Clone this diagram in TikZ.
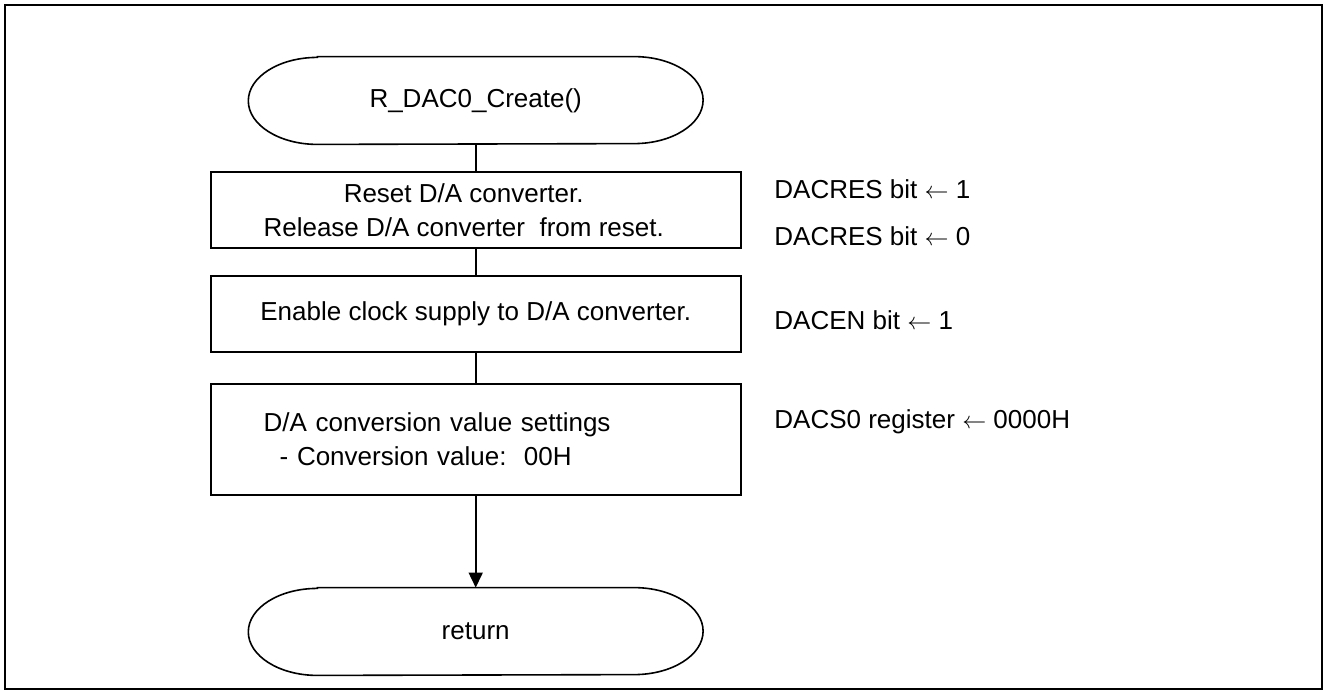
\documentclass[tikz,border=0pt]{standalone}
\usepackage{fontspec}
\setmainfont{Liberation Sans}
\usetikzlibrary{arrows.meta}
\tikzstyle{flow text} = [font=\fontsize{13}{17}\selectfont]
\tikzstyle{flow line} = [line width=0.8pt]
\tikzstyle{flow box} = [draw, flow line, minimum width=265pt, minimum height=38pt, inner sep=0pt, align=center, flow text]
\tikzstyle{note} = [anchor=base west, inner sep=0pt, flow text]
\newcommand{\terminal}[3]{
 \node[flow text, minimum width=227pt, minimum height=43.5pt, inner sep=0pt] (#1) at (#2) {#3};
 \draw[flow line] ([xshift=34.5pt]#1.north west) -- ([xshift=-34.5pt]#1.north east)
  arc[start angle=90, end angle=-90, x radius=34.5pt, y radius=21.75pt]
  -- ([xshift=34.5pt]#1.south west)
  arc[start angle=270, end angle=90, x radius=34.5pt, y radius=21.75pt] -- cycle;
}

\begin{document}
\begin{tikzpicture}[x=0.5pt,y=0.5pt]
    \useasboundingbox (0,0) rectangle (1325,-691);
    \draw[line width=1.2pt] (5,-5) rectangle (1322,-689);

    \terminal{start}{475.7,-100.5}{R\_DAC0\_Create()}
    \node[flow box] (reset) at (475.7,-210) {};
    \node[flow text, align=center, inner sep=0pt] (resettxt) at ([xshift=-6pt]reset.center)
     {Reset D/A converter.\\Release D/A converter\ \ from reset.};
    \node[flow box] (clock) at (475.7,-314) {Enable clock supply to D/A converter.};
    \node[flow box, minimum height=55.5pt, text width=212pt, inner xsep=26.5pt, align=left] (conv) at (475.7,-439.5)
     {D/A conversion value settings\\\hspace*{8pt}- Conversion value:\ \ 00H};
    \terminal{ret}{475.7,-631.5}{return}

    % flow
    \draw[flow line] (start) -- (reset);
    \draw[flow line] (reset) -- (clock);
    \draw[flow line] (clock) -- (conv);
    \draw[flow line,->,>={Triangle[width=7pt,length=7.5pt]}] (conv) -- (ret);

    % register notes
    \node[note] (res1) at (774,-198.5) {DACRES bit $\leftarrow$ 1};
    \node[note] (res0) at (774,-245) {DACRES bit $\leftarrow$ 0};
    \node[note] (en)   at (774,-329) {DACEN bit $\leftarrow$ 1};
    \node[note] (cs0)  at (774,-428) {DACS0 register $\leftarrow$ 0000H};
\end{tikzpicture}
\end{document}
